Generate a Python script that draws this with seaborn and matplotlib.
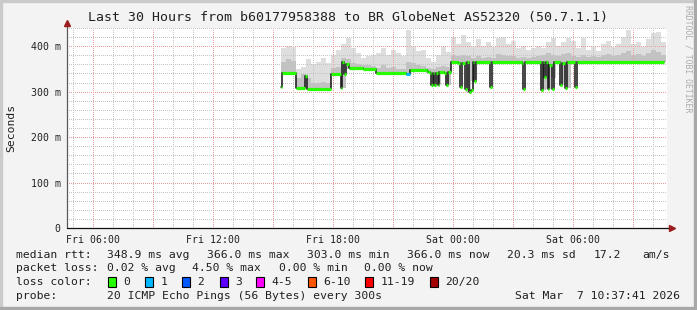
import numpy as np
import matplotlib
matplotlib.use("Agg")
import matplotlib.pyplot as plt
import seaborn as sns
from matplotlib.patches import Rectangle
from matplotlib.ticker import MultipleLocator

# ---------------- data ----------------
title = "Last 30 Hours from b60177958388 to BR GlobeNet AS52320 (50.7.1.1)"
x_ticks = [6, 12, 18, 24, 30]                     # hours since Fri 00:00
x_labels = ["Fri 06:00", "Fri 12:00", "Fri 18:00", "Sat 00:00", "Sat 06:00"]
y_ticks = [0, 100, 200, 300, 400]
y_labels = ["0", "100 m", "200 m", "300 m", "400 m"]
x_start, x_end = 4.70, 34.70
y_max = 440

# median rtt (ms) as a step series: start time (h) of each step, value, loss class
med_t = [15.385, 15.45, 16.165, 16.615, 16.715, 17.885, 18.385, 18.465, 18.55, 18.635,
         18.8, 19.5, 20.165, 21.65, 21.85, 22.685, 22.765, 22.835, 22.9, 22.985,
         23.065, 23.15, 23.235, 23.315, 23.565, 23.65, 23.735, 23.9, 24.265, 24.35,
         24.435, 24.6, 24.685, 24.815, 24.9, 24.985, 25.065, 25.15, 25.85, 25.935,
         27.45, 27.515, 27.6, 28.4, 28.485, 28.565, 28.65, 28.735, 28.815, 28.95,
         29.05, 29.365, 29.45, 29.615, 29.7, 30.115, 30.2]
med_v = [311, 341, 309, 335, 306, 339, 308, 366, 338, 360,
         351, 349, 341, 339, 348, 346, 343, 341, 315, 341,
         315, 341, 315, 344, 341, 315, 343, 366, 363, 310,
         364, 306, 365, 300, 304, 365, 324, 365, 311, 365,
         364, 306, 365, 303, 365, 333, 365, 306, 359, 306,
         365, 315, 363, 308, 365, 311, 366]
med_loss = [0] * 13 + [1] + [0] * 43
med_end = 34.535

# smoke (ping spread) in 15-minute bins starting at smoke_t0
smoke_t0 = 15.40
smoke_dt = 0.25
smoke_lo = [341, 341, 341, 309, 307, 306, 306, 306, 306, 306,
            339, 339, 308, 350, 351, 351, 349, 349, 349, 341,
            341, 341, 341, 341, 341, 339, 348, 348, 348, 341,
            315, 315, 341, 315, 366, 363, 364, 300, 324, 365,
            365, 365, 365, 365, 365, 365, 365, 365, 365, 365,
            365, 365, 303, 306, 330, 365, 315, 308, 365, 365,
            365, 365, 365, 365, 365, 365, 365, 365, 365, 365,
            365, 365, 365, 365, 365, 365, 365]
smoke_mid = [365, 372, 368, 330, 338, 330, 320, 318, 322, 318,
             352, 355, 375, 372, 362, 360, 358, 358, 356, 352,
             358, 352, 355, 350, 350, 365, 362, 358, 356, 352,
             350, 355, 356, 355, 380, 378, 380, 378, 375, 378,
             375, 376, 375, 382, 380, 378, 378, 375, 376, 375,
             376, 378, 380, 385, 380, 378, 382, 385, 378, 376,
             380, 376, 378, 376, 380, 382, 378, 380, 385, 390,
             380, 382, 378, 385, 392, 388, 380]
smoke_hi = [395, 400, 398, 350, 355, 372, 360, 365, 375, 362,
            380, 392, 405, 418, 395, 385, 375, 378, 380, 385,
            395, 380, 392, 385, 378, 435, 400, 390, 392, 375,
            365, 380, 398, 388, 420, 405, 425, 410, 400, 415,
            400, 410, 398, 418, 420, 405, 412, 395, 400, 392,
            395, 400, 395, 410, 418, 400, 410, 418, 412, 395,
            418, 392, 400, 390, 405, 412, 398, 405, 420, 435,
            405, 410, 398, 415, 428, 432, 410]

loss_labels = ["0", "1", "2", "3", "4-5", "6-10", "11-19", "20/20"]
loss_colors = ["#26ff00", "#00b8ff", "#0059ff", "#5e00ff", "#ff00ff",
               "#ff5500", "#ff0000", "#a10000"]

rtt_texts = ["348.9 ms avg", "366.0 ms max", "303.0 ms min", "366.0 ms now",
             "20.3 ms sd", "17.2", "am/s"]
loss_texts = ["0.02 % avg", "4.50 % max", "0.00 % min", "0.00 % now"]
probe_text = "20 ICMP Echo Pings (56 Bytes) every 300s"
stamp_text = "Sat Mar  7 10:37:41 2026"
watermark = "RRDTOOL / TOBI OETIKER"

# ---------------- layout ----------------
W, H = 697, 310
sns.set_style("white")
plt.rcParams["font.family"] = ["DejaVu Sans Mono", "DejaVu Sans"]
MONO = "DejaVu Sans Mono"

fig = plt.figure(figsize=(W / 100, H / 100), dpi=100, facecolor="#f3f3f3")

def fx(px):
    return px / W

def fy(py):
    return 1 - py / H

# frame shading
for (x0, y0, w, h, c) in [(0, 0, 2, H, "#cbcbcb"), (0, 0, W, 2, "#cbcbcb"),
                          (W - 3, 0, 3, H, "#a8a8a8"), (0, H - 3, W, 3, "#a8a8a8")]:
    fig.patches.append(Rectangle((fx(x0), fy(y0 + h)), w / W, h / H,
                                 transform=fig.transFigure, color=c, zorder=0))

ax = fig.add_axes([fx(67), fy(228), 600 / W, 200 / H])
ax.set_facecolor("white")
ax.set_xlim(x_start, x_end)
ax.set_ylim(0, y_max)
for s in ax.spines.values():
    s.set_visible(False)

# smoke
centers = smoke_t0 + smoke_dt * (np.arange(len(smoke_hi)) + 0.5)
lo = np.array(smoke_lo, float)
ax.bar(centers, np.array(smoke_hi) - lo, bottom=lo, width=smoke_dt,
       color="#dedede", linewidth=0, zorder=2)
ax.bar(centers, np.array(smoke_mid) - lo, bottom=lo, width=smoke_dt,
       color="#c2c2c2", linewidth=0, zorder=2.1)

# grid (dotted, rrdtool style)
dot = (0, (1, 2))
for v in range(20, y_max + 1, 20):
    major = v % 100 == 0
    ax.axhline(v, color="#eb9c9c" if major else "#c4c4c4", lw=0.72,
               ls=dot, zorder=3, antialiased=False)
for h in range(5, 35):
    major = h % 3 == 0
    ax.axvline(h, color="#eb9c9c" if major else "#c4c4c4", lw=0.72,
               ls=dot, zorder=3, antialiased=False)

# median: black steps + loss-coloured horizontal segments
step_x = med_t + [med_end]
step_y = med_v + [med_v[-1]]
sns.lineplot(x=step_x, y=step_y, drawstyle="steps-post", color="#1c1c1c",
             lw=1.15, estimator=None, sort=False, ax=ax, zorder=4)
ends = med_t[1:] + [med_end]
for t0, t1, v, l in zip(med_t, ends, med_v, med_loss):
    ax.hlines(v, t0, t1, color=loss_colors[l], lw=2.3, zorder=5)

# ticks
ax.set_xticks(x_ticks)
ax.set_xticklabels(x_labels, fontsize=7.1, family=MONO, color="#202020")
ax.set_yticks(y_ticks)
ax.set_yticklabels(y_labels, fontsize=7.1, family=MONO, color="#202020")
ax.xaxis.set_minor_locator(MultipleLocator(1))
ax.yaxis.set_minor_locator(MultipleLocator(20))
ax.tick_params(which="both", length=1.6, width=0.7, color="#707070", direction="out")
ax.tick_params(axis="x", pad=3.5)
ax.tick_params(axis="y", pad=3.0)
ax.set_xlabel("")
ax.set_ylabel("")

# axes lines and arrows
ax.plot([0, 0], [0, 1.035], transform=ax.transAxes, color="#5a5a5a", lw=0.9,
        clip_on=False, zorder=6)
ax.plot([0, 1.004], [0, 0], transform=ax.transAxes, color="#101010", lw=0.9,
        clip_on=False, zorder=6)
ax.plot([1.008], [0], marker=">", ms=4.2, color="#9b1c1c", mec="#9b1c1c",
        transform=ax.transAxes, clip_on=False, zorder=7)
ax.plot([0], [1.0235], marker="^", ms=4.2, color="#9b1c1c", mec="#9b1c1c",
        transform=ax.transAxes, clip_on=False, zorder=7)

# title, y label, watermark
fig.text(fx(347.5), fy(18), title, ha="center", va="center", fontsize=9.55,
         family=MONO, color="#202020")
fig.text(fx(11), fy(127.5), "Seconds", rotation=90, ha="center", va="center",
         fontsize=8.2, family=MONO, color="#202020")
fig.text(fx(688), fy(5), watermark, rotation=270, ha="center", va="top",
         fontsize=5.9, family=MONO, color="#ababab")

# legend rows
def t(px, py, s, ha="left"):
    fig.text(fx(px), fy(py), s, ha=ha, va="center", fontsize=8.2, family=MONO,
             color="#202020")

row_y = [254.7, 268.3, 282.0, 296.3]
t(16, row_y[0], "median rtt:")
for px, s in zip([107, 207, 306.7, 407, 507, 593.3, 642.2], rtt_texts):
    t(px, row_y[0], s)
t(16, row_y[1], "packet loss:")
for px, s in zip([107, 192.4, 279, 364.4], loss_texts):
    t(px, row_y[1], s)
t(16, row_y[2], "loss color:")
box_x = [108.4, 145.3, 182, 219.6, 256.4, 307.6, 365.3, 430]
for bx, lab, col in zip(box_x, loss_labels, loss_colors):
    fig.patches.append(Rectangle((fx(bx), fy(287)), 8 / W, 10.5 / H,
                                 transform=fig.transFigure, facecolor=col,
                                 edgecolor="black", lw=0.8, zorder=5))
    t(bx + 15.3, row_y[2], lab)
t(16, row_y[3], "probe:")
t(107, row_y[3], probe_text)
t(680, row_y[3], stamp_text, ha="right")

fig.savefig("out.png", dpi=100, facecolor=fig.get_facecolor())
